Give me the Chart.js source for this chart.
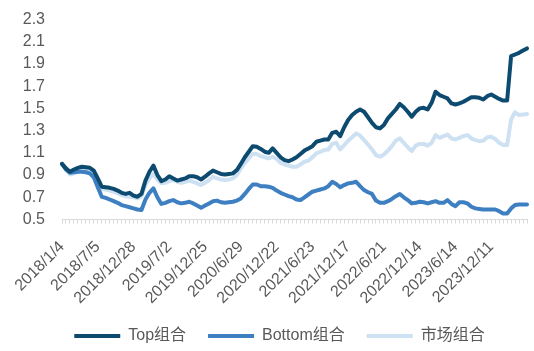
<!DOCTYPE html>
<html>
<head>
<meta charset="utf-8">
<script src="https://cdn.jsdelivr.net/npm/chart.js@4/dist/chart.umd.min.js"></script>
<style>
html,body{margin:0;padding:0;background:#fff;}
#wrap{width:534px;height:351px;}
</style>
</head>
<body>
<div id="wrap"><canvas id="c" width="534" height="351"></canvas></div>
<script>
// Tick labels shown on the x axis (every 9th observation)
const tickDates = ["2018/1/4","2018/7/5","2018/12/28","2019/7/2","2019/12/25","2020/6/29","2020/12/22","2021/6/23","2021/12/17","2022/6/21","2022/12/14","2023/6/14","2023/12/11"];
const labelStep = 9;

const topSeries = [1.00,0.96,0.93,0.95,0.965,0.975,0.97,0.965,0.94,0.87,
0.795,0.79,0.785,0.775,0.76,0.74,0.73,0.74,0.715,0.705,
0.73,0.85,0.93,0.985,0.90,0.845,0.86,0.89,0.87,0.85,
0.86,0.87,0.89,0.89,0.88,0.86,0.885,0.915,0.94,0.925,
0.91,0.905,0.91,0.915,0.945,1.00,1.06,1.11,1.16,1.155,
1.135,1.11,1.10,1.14,1.10,1.06,1.035,1.025,1.04,1.06,
1.09,1.12,1.14,1.16,1.20,1.21,1.22,1.22,1.28,1.29,
1.25,1.33,1.395,1.44,1.47,1.49,1.47,1.42,1.37,1.33,
1.32,1.35,1.41,1.45,1.49,1.54,1.51,1.47,1.425,1.47,
1.50,1.505,1.49,1.55,1.65,1.62,1.605,1.59,1.545,1.535,
1.545,1.56,1.58,1.60,1.60,1.595,1.58,1.61,1.625,1.605,
1.585,1.57,1.57,1.97,1.985,2.00,2.02,2.04];

const bottomSeries = [1.00,0.95,0.92,0.925,0.93,0.93,0.925,0.915,0.88,0.79,
0.705,0.695,0.68,0.665,0.65,0.63,0.62,0.61,0.60,0.59,
0.585,0.68,0.74,0.78,0.70,0.64,0.65,0.665,0.675,0.655,
0.645,0.65,0.66,0.645,0.625,0.605,0.625,0.645,0.665,0.67,
0.655,0.65,0.655,0.66,0.67,0.69,0.73,0.775,0.815,0.815,
0.80,0.80,0.795,0.785,0.76,0.74,0.725,0.71,0.70,0.68,
0.675,0.70,0.725,0.75,0.76,0.77,0.78,0.80,0.84,0.82,
0.79,0.81,0.825,0.83,0.84,0.80,0.765,0.745,0.73,0.67,
0.65,0.65,0.665,0.685,0.71,0.73,0.70,0.675,0.645,0.65,
0.66,0.655,0.645,0.655,0.665,0.65,0.65,0.675,0.64,0.62,
0.655,0.655,0.645,0.615,0.60,0.595,0.59,0.59,0.59,0.59,
0.575,0.555,0.555,0.60,0.63,0.635,0.635,0.635];

const marketSeries = [1.00,0.95,0.905,0.915,0.93,0.94,0.94,0.94,0.91,0.83,
0.775,0.77,0.76,0.75,0.735,0.72,0.71,0.705,0.70,0.69,
0.71,0.81,0.87,0.91,0.86,0.825,0.83,0.845,0.855,0.84,
0.83,0.84,0.85,0.84,0.825,0.81,0.83,0.855,0.885,0.87,
0.86,0.855,0.86,0.87,0.90,0.96,1.01,1.05,1.09,1.09,
1.07,1.06,1.05,1.065,1.045,1.01,0.995,0.985,0.975,0.975,
0.995,1.02,1.03,1.06,1.095,1.11,1.125,1.13,1.18,1.19,
1.13,1.17,1.21,1.24,1.275,1.255,1.215,1.175,1.13,1.08,
1.065,1.085,1.12,1.16,1.21,1.23,1.19,1.15,1.115,1.165,
1.18,1.18,1.165,1.19,1.26,1.235,1.25,1.265,1.23,1.22,
1.235,1.25,1.26,1.23,1.215,1.205,1.21,1.24,1.245,1.225,
1.19,1.17,1.17,1.40,1.465,1.44,1.445,1.45];

const seriesNames = ["Top组合","Bottom组合","市场组合"];
const yTicks = [0.5,0.7,0.9,1.1,1.3,1.5,1.7,1.9,2.1,2.3];

const categories = topSeries.map((_, i) => (i % labelStep === 0 && tickDates[i / labelStep]) ? tickDates[i / labelStep] : "");

const FONT = "'Liberation Sans', Arial, 'Noto Sans CJK SC', sans-serif";
const TXT = "#595959";

const legendShift = {
  id: 'legendShift',
  afterUpdate(chart) {
    const lg = chart.legend;
    if (lg) { lg.left += 16; lg.right += 16; }
  }
};

new Chart(document.getElementById('c'), {
  type: 'line',
  data: {
    labels: categories,
    datasets: [
      {label: seriesNames[0], data: topSeries, borderColor: '#0d4a70', backgroundColor: '#0d4a70'},
      {label: seriesNames[1], data: bottomSeries, borderColor: '#3d7fc1', backgroundColor: '#3d7fc1'},
      {label: seriesNames[2], data: marketSeries, borderColor: '#cde1f3', backgroundColor: '#cde1f3'}
    ].map(d => Object.assign(d, {borderWidth: 4, pointRadius: 0, tension: 0, fill: false, borderJoinStyle: 'round', borderCapStyle: 'round'}))
  },
  plugins: [legendShift],
  options: {
    responsive: false,
    devicePixelRatio: 1,
    animation: false,
    layout: {padding: {top: 19.5, right: 7, bottom: -3, left: 0}},
    scales: {
      x: {
        offset: false,
        afterFit: s => { s.height = 86.5; s.paddingLeft = 0; s.paddingRight = 0; },
        grid: {display: true, drawOnChartArea: false, drawTicks: true, tickLength: 4, color: '#d9d9d9', lineWidth: 1},
        border: {display: true, color: '#d9d9d9', width: 1},
        ticks: {
          autoSkip: false, maxRotation: 45, minRotation: 45, padding: 14,
          color: TXT, font: {family: FONT, size: 16},
          callback: function(v, i) { return categories[i]; }
        }
      },
      y: {
        min: 0.5, max: 2.3,
        afterFit: s => { s.width = 62; s.paddingTop = 0; s.paddingBottom = 0; },
        afterBuildTicks: s => { s.ticks = yTicks.map(v => ({value: v})); },
        grid: {display: false, drawTicks: false},
        border: {display: false},
        ticks: {autoSkip: false, padding: 17, color: TXT, font: {family: FONT, size: 16}, callback: v => v.toFixed(1)}
      }
    },
    plugins: {
      legend: {
        position: 'bottom',
        labels: {
          boxWidth: 46, boxHeight: 4, padding: 22, color: TXT,
          font: {family: FONT, size: 16},
          generateLabels: chart => Chart.defaults.plugins.legend.labels.generateLabels(chart).map(l => Object.assign(l, {lineWidth: 0}))
        }
      },
      tooltip: {enabled: false}
    }
  }
});
</script>
</body>
</html>
